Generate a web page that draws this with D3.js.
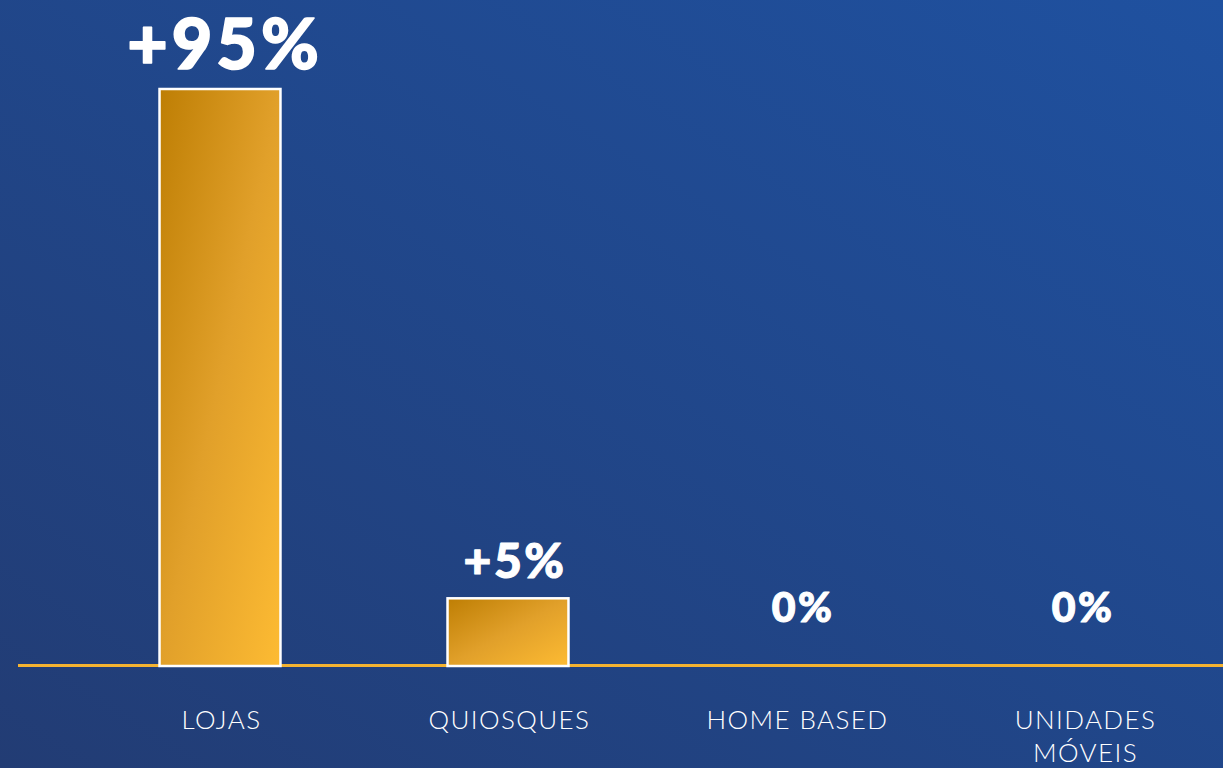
<!DOCTYPE html>
<html><head><meta charset="utf-8">
<script src="https://cdn.jsdelivr.net/npm/d3@7"></script>
<style>html,body{margin:0;padding:0;overflow:hidden;background:#213f7c}</style>
</head><body>
<svg id="chart" width="1223" height="768"></svg>
<script>
const categories = [["LOJAS"], ["QUIOSQUES"], ["HOME BASED"], ["UNIDADES", "MÓVEIS"]];
const shareValues = [95, 5, 0, 0];          // printed percentages
const barValues = [95, 11, 0, 0];           // drawn bar lengths
const valueLabels = ["+95%", "+5%", "0%", "0%"];
const labelSizes = [70, 48, 41, 41];

const W = 1223, H = 768;
const svg = d3.select("#chart");
const defs = svg.append("defs");

const bg = defs.append("linearGradient").attr("id", "bg")
  .attr("x1", "0").attr("y1", "1").attr("x2", "1").attr("y2", "0");
bg.append("stop").attr("offset", "0").attr("stop-color", "#223c74");
bg.append("stop").attr("offset", "1").attr("stop-color", "#1f51a0");
svg.append("rect").attr("width", W).attr("height", H).attr("fill", "url(#bg)");

const gold = defs.append("linearGradient").attr("id", "gold")
  .attr("x1", "0").attr("y1", "0").attr("x2", "1").attr("y2", "1");
gold.append("stop").attr("offset", "0").attr("stop-color", "#be7e04");
gold.append("stop").attr("offset", "0.5").attr("stop-color", "#e1a02a");
gold.append("stop").attr("offset", "1").attr("stop-color", "#fdbb33");

const baseY = 665;
const x = d3.scaleBand().domain(d3.range(categories.length))
  .range([76, 1228]).paddingInner(0.58).paddingOuter(0.29);
const y = d3.scaleLinear().domain([0, 95]).range([baseY, 89]);

// baseline
svg.append("line").attr("x1", 18).attr("x2", W).attr("y1", baseY + 0.5).attr("y2", baseY + 0.5)
  .attr("stroke", "#f4b331").attr("stroke-width", 3);

// bars
svg.selectAll("rect.bar").data(barValues.map((v, i) => ({v, i})).filter(d => d.v > 0))
  .enter().append("rect").attr("class", "bar")
  .attr("x", d => x(d.i)).attr("width", x.bandwidth())
  .attr("y", d => y(d.v)).attr("height", d => baseY + 1 - y(d.v))
  .attr("fill", "url(#gold)").attr("stroke", "#ffffff").attr("stroke-width", 2.5);

// value labels
const labelDx = [5, 7, 7, -1];
const labelY = i => barValues[i] > 0 ? y(barValues[i]) - 20 : baseY - 43;
svg.selectAll("text.val").data(valueLabels).enter().append("text").attr("class", "val")
  .attr("x", (d, i) => x(i) + x.bandwidth() / 2 + labelDx[i])
  .attr("y", (d, i) => labelY(i))
  .attr("text-anchor", "middle")
  .attr("font-family", "Lato, sans-serif")
  .attr("font-weight", 900)
  .attr("font-size", (d, i) => labelSizes[i])
  .attr("letter-spacing", (d, i) => i === 0 ? 4 : 2.5)
  .attr("fill", "#ffffff")
  .attr("stroke", "#ffffff")
  .attr("stroke-width", (d, i) => i === 0 ? 1.6 : 1.1)
  .attr("stroke-linejoin", "round")
  .text(d => d);

// category labels
const cat = svg.selectAll("text.cat").data(categories).enter().append("text").attr("class", "cat")
  .attr("x", (d, i) => x(i) + x.bandwidth() / 2 + 1.5)
  .attr("y", 729)
  .attr("text-anchor", "middle")
  .attr("font-family", "Lato, sans-serif")
  .attr("font-weight", 300)
  .attr("font-size", 26)
  .attr("letter-spacing", 1.4)
  .attr("fill", "#ffffff");
cat.selectAll("tspan").data(d => d).enter().append("tspan")
  .attr("x", function() { return d3.select(this.parentNode).attr("x"); })
  .attr("dy", (d, j) => j === 0 ? 0 : 33)
  .text(d => d);
</script>
</body></html>
